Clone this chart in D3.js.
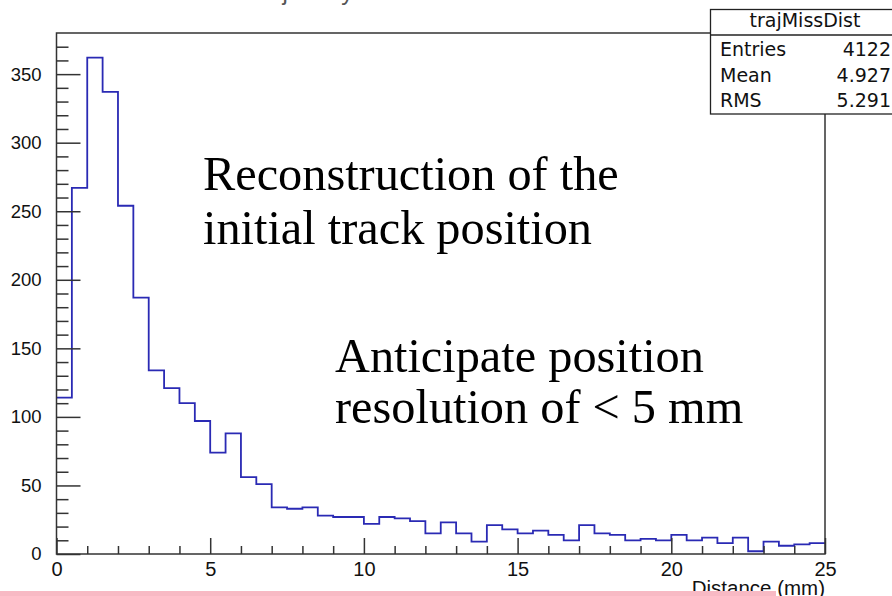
<!DOCTYPE html>
<html>
<head>
<meta charset="utf-8">
<script src="https://cdn.jsdelivr.net/npm/d3@7"></script>
<style>
  html, body { margin: 0; padding: 0; background: #fff; }
  svg { display: block; }
</style>
</head>
<body>
<svg id="chart" width="892" height="596"></svg>
<script>
// Histogram of trajectory miss distance, 50 bins of 0.5 mm over [0, 25] mm
const binLow = 0;
const binHigh = 25;
const binWidth = 0.5;
const counts = [
  114, 267, 362, 337, 254, 187, 134, 121, 110, 97,
  74, 88, 56, 51, 34, 33, 34, 28, 27, 27,
  22, 27, 26, 24, 15, 23, 15, 9, 21, 18,
  15, 17, 14, 10, 21, 15, 14, 10, 11, 10,
  14, 10, 12, 8, 12, 2, 9, 6, 7, 8
];
const yMajorTicks = [0, 50, 100, 150, 200, 250, 300, 350];
const xMajorTicks = [0, 5, 10, 15, 20, 25];
const statsName = "trajMissDist";
const statsLabels = ["Entries", "Mean", "RMS"];
const statsValues = ["4122", "4.927", "5.291"];
const xTitle = "Distance (mm)";
const histTitle = "Trajectory reconstruction miss distance";
const noteA = ["Reconstruction of the", "initial track position"];
const noteB = ["Anticipate position", "resolution of < 5 mm"];

const svg = d3.select("#chart");
const frame = { left: 56.5, right: 825, top: 33, bottom: 554 };

const x = d3.scaleLinear().domain([binLow, binHigh]).range([frame.left, frame.right]);
const y = d3.scaleLinear().domain([0, 380]).range([frame.bottom, frame.top]);

const sans = "'Liberation Sans', Arial, Helvetica, sans-serif";

// Title sits almost entirely above the visible area
svg.append("text")
  .attr("x", 455).attr("y", 0)
  .attr("text-anchor", "middle")
  .attr("font-family", sans).attr("font-size", 24)
  .attr("fill", "#555")
  .text(histTitle);

// Histogram outline as a step path
const bins = counts.map((c, i) => ({ x0: binLow + i * binWidth, x1: binLow + (i + 1) * binWidth, c }));
const pts = [];
bins.forEach(b => { pts.push([x(b.x0), y(b.c)]); pts.push([x(b.x1), y(b.c)]); });
svg.append("path")
  .attr("d", d3.line()(pts))
  .attr("fill", "none")
  .attr("stroke", "#2a2ab4")
  .attr("stroke-width", 1.8);

// Minor and major ticks on the y axis
const yMinor = d3.range(0, 380, 10).filter(v => v % 50 !== 0);
const yMinorAxis = svg.append("g").attr("transform", `translate(${frame.left},0)`)
  .call(d3.axisLeft(y).tickValues(yMinor).tickSize(-12).tickFormat(""));
const yAxis = svg.append("g").attr("transform", `translate(${frame.left},0)`)
  .call(d3.axisLeft(y).tickValues(yMajorTicks).tickSize(-24).tickPadding(15));

// Minor and major ticks on the x axis
const xMinor = d3.range(0, 26, 1).filter(v => v % 5 !== 0);
const xMinorAxis = svg.append("g").attr("transform", `translate(0,${frame.bottom})`)
  .call(d3.axisBottom(x).tickValues(xMinor).tickSize(-8).tickFormat(""));
const xAxis = svg.append("g").attr("transform", `translate(0,${frame.bottom})`)
  .call(d3.axisBottom(x).tickValues(xMajorTicks).tickSize(-16).tickPadding(8));

[yMinorAxis, yAxis, xMinorAxis, xAxis].forEach(g => {
  g.select(".domain").remove();
  g.selectAll(".tick line").attr("stroke", "#333").attr("stroke-width", 1.5);
  g.selectAll("text").attr("font-family", sans).attr("fill", "#111");
});
yAxis.selectAll("text").attr("font-size", 18.5);
xAxis.selectAll("text").attr("font-size", 20);

// Frame box
svg.append("rect")
  .attr("x", frame.left).attr("y", frame.top)
  .attr("width", frame.right - frame.left).attr("height", frame.bottom - frame.top)
  .attr("fill", "none").attr("stroke", "#333").attr("stroke-width", 1.5);

// x-axis title
svg.append("text")
  .attr("x", frame.right).attr("y", 595)
  .attr("text-anchor", "end")
  .attr("font-family", sans).attr("font-size", 20.5).attr("fill", "#111")
  .text(xTitle);

// Statistics box
const stats = svg.append("g");
stats.append("rect")
  .attr("x", 710.5).attr("y", 9.5).attr("width", 200).attr("height", 104.5)
  .attr("fill", "#fff").attr("stroke", "#222").attr("stroke-width", 1.3);
stats.append("line")
  .attr("x1", 710.5).attr("x2", 892).attr("y1", 35).attr("y2", 35)
  .attr("stroke", "#222").attr("stroke-width", 1.3);
const statsFont = "'DejaVu Sans', Verdana, sans-serif";
stats.append("text")
  .attr("x", 805).attr("y", 27)
  .attr("text-anchor", "middle")
  .attr("font-family", statsFont).attr("font-size", 19).attr("fill", "#111")
  .text(statsName);
statsLabels.forEach((lab, i) => {
  const by = 56 + i * 25.5;
  stats.append("text").attr("x", 720).attr("y", by)
    .attr("font-family", statsFont).attr("font-size", 19).attr("fill", "#111").text(lab);
  stats.append("text").attr("x", 891).attr("y", by)
    .attr("text-anchor", "end")
    .attr("font-family", statsFont).attr("font-size", 19).attr("fill", "#111").text(statsValues[i]);
});

// Annotations
const serif = "'Liberation Serif', 'Times New Roman', serif";
noteA.forEach((t, i) => {
  svg.append("text").attr("x", 203).attr("y", 190 + i * 54)
    .attr("font-family", serif).attr("font-size", 48.3).attr("fill", "#000").text(t);
});
noteB.forEach((t, i) => {
  svg.append("text").attr("x", 335).attr("y", 372 + i * 51)
    .attr("font-family", serif).attr("font-size", 48.3).attr("fill", "#000").text(t);
});

// Pink rule along the bottom edge
svg.append("rect")
  .attr("x", 0).attr("y", 591).attr("width", 776).attr("height", 5)
  .attr("fill", "#f8b9c4");
</script>
</body>
</html>
